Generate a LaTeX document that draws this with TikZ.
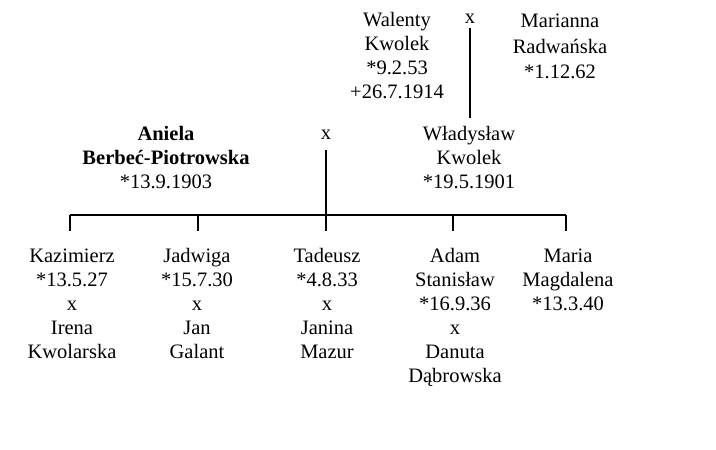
\documentclass[tikz,border=0pt]{standalone}
\usepackage{fontspec}
\setmainfont{Liberation Serif}
\usepackage{tikz}
\tikzstyle{person}=[align=center,anchor=base,inner sep=2pt,font=\fontsize{20.5}{24}\selectfont]
\tikzstyle{wed}=[anchor=base,inner sep=2pt,font=\fontsize{20.5}{24}\selectfont]
\tikzstyle{link}=[line width=1.6pt]

\begin{document}
\begin{tikzpicture}[x=1pt,y=1pt]
    \useasboundingbox (0,0) rectangle (716,450);

    \node[person] (walenty) at (397,351) {Walenty\\Kwolek\\*9.2.53\\+26.7.1914};
    \node[wed] (wed1) at (470,426) {x};
    \node[person,font=\fontsize{20.5}{25.5}\selectfont] (marianna) at (560,371) {Marianna\\Radwańska\\*1.12.62};

    \node[person] (aniela) at (166,261) {\textbf{Aniela}\\\textbf{Berbeć-Piotrowska}\\*13.9.1903};
    \node[wed] (wed2) at (326,310) {x};
    \node[person] (wladyslaw) at (469,261) {Władysław\\Kwolek\\*19.5.1901};

    \coordinate (bar) at (326,235);

    \node[person] (kazimierz) at (72,91) {Kazimierz\\*13.5.27\\x\\Irena\\Kwolarska};
    \node[person] (jadwiga) at (197,91) {Jadwiga\\*15.7.30\\x\\Jan\\Galant};
    \node[person] (tadeusz) at (327,91) {Tadeusz\\*4.8.33\\x\\Janina\\Mazur};
    \node[person] (adam) at (455,67) {Adam\\Stanisław\\*16.9.36\\x\\Danuta\\Dąbrowska};
    \node[person] (maria) at (568,139) {Maria\\Magdalena\\*13.3.40};

    \draw[link,shorten <=2pt,shorten >=7pt] (wed1.south) -- (wed1.south |- wladyslaw.north);
    \draw[link,shorten <=8pt] (wed2.south) -- (bar);
    \draw[link] (70,235) -- (566,235);
    \foreach \kid/\xx in {kazimierz/70,jadwiga/198,tadeusz/326,adam/453,maria/566}
      \draw[link,shorten >=16pt] (\xx,235) -- (\xx,0 |- \kid.north);
\end{tikzpicture}
\end{document}
